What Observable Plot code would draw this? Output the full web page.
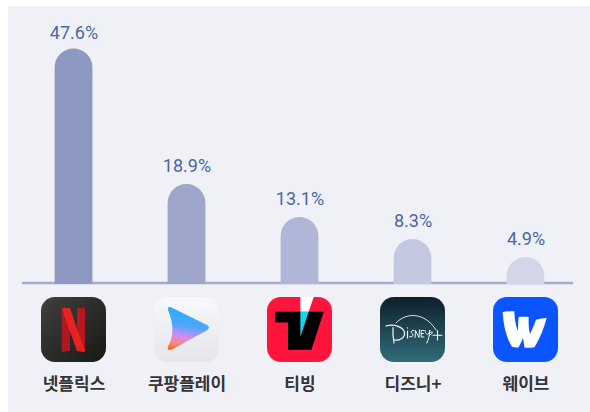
<!DOCTYPE html>
<html lang="ko">
<head>
<meta charset="utf-8">
<script src="https://cdn.jsdelivr.net/npm/d3@7"></script>
<script src="https://cdn.jsdelivr.net/npm/@observablehq/plot@0.6"></script>
<style>
html,body{margin:0;padding:0;background:#fff;width:590px;height:412px;overflow:hidden}
#panel{position:absolute;left:8px;top:6px;width:582px;height:406px;background:#f0f1f7}
#chart{position:absolute;left:0;top:0}
svg{display:block;background:transparent}
</style>
</head>
<body>
<div id="panel"></div>
<div id="chart"></div>
<script>
const services = ["넷플릭스", "쿠팡플레이", "티빙", "디즈니+", "웨이브"];
const shares = [47.6, 18.9, 13.1, 8.3, 4.9];
const shareLabels = ["47.6%", "18.9%", "13.1%", "8.3%", "4.9%"];
const barColors = ["#8e99c3", "#9ea6cb", "#b0b6d7", "#c3c8e0", "#d3d6e8"];

const svgUri = s => "data:image/svg+xml;charset=utf-8," + encodeURIComponent(
  `<svg xmlns="http://www.w3.org/2000/svg" width="65" height="65" viewBox="0 0 65 65">${s}</svg>`);
const tile = (id, a, b) => `<defs><linearGradient id="${id}" x1="0" y1="0" x2="0" y2="1"><stop offset="0" stop-color="${a}"/><stop offset="1" stop-color="${b}"/></linearGradient></defs><rect width="65" height="65" rx="14" fill="url(#${id})"/>`;

const logoNetflix = svgUri(`<defs><linearGradient id="n" x1="0" y1="0" x2="1" y2="1"><stop offset="0" stop-color="#3f3f3f"/><stop offset="1" stop-color="#191917"/></linearGradient></defs>
<rect width="65" height="65" rx="14" fill="url(#n)"/>
<path d="M20.7 11H29V53.5L20.7 55Z" fill="#b0181f"/><path d="M36 11H44V55L36 54Z" fill="#b5191f"/>
<path d="M20.7 11H29L44 55L36 54Z" fill="#e8231f"/>`);

const logoCoupang = svgUri(`<defs>
<linearGradient id="t" x1="0" y1="0" x2="0" y2="1"><stop offset="0" stop-color="#f7f8fa"/><stop offset="1" stop-color="#e5e6ea"/></linearGradient>
<linearGradient id="p" gradientUnits="userSpaceOnUse" x1="25" y1="10" x2="18" y2="52"><stop offset="0" stop-color="#29acfb"/><stop offset="0.42" stop-color="#52a6fa"/><stop offset="0.66" stop-color="#d08cf5"/><stop offset="0.84" stop-color="#f48a8e"/><stop offset="1" stop-color="#fb6a1c"/></linearGradient>
<filter id="b"><feGaussianBlur stdDeviation="0.35"/></filter></defs>
<rect width="65" height="65" rx="14" fill="url(#t)"/>
<path d="M14 13Q13 9.5 17 10.2L53 28Q57 30.5 53 33.2L19 52Q13 54.5 13.8 50Q23 34 14 13Z" fill="url(#p)" filter="url(#b)"/>`);

const logoTving = svgUri(`<rect width="65" height="65" rx="14" fill="#ff153c"/>
<path d="M8 14.7H56.7L44.4 52.7H21V25.4H8Z" fill="#000"/>
<path d="M33.4 0H46.7L41.7 14.7H33.4Z" fill="#fff"/>
<path d="M33.4 14.7H41.7L33.4 40Z" fill="#16d6e6"/>`);

const logoDisney = svgUri(`${tile("d", "#0f1e2c", "#306c79")}
<g fill="none" stroke="#f4f8f8" stroke-linecap="round">
<path d="M16 26C26 15 45 15 56 33" stroke-width="0.9"/>
<path d="M6 29C14 26.5 24 30 24.5 36C25 41 19 44 14.5 43M13 30.5C12.7 35 13 40 14 46" stroke-width="1.2"/>
<path d="M27.5 34V41M27.5 30.8V31" stroke-width="1.2"/>
<path d="M34 33.5C31 33 30.5 35.5 32 36.5C34 37.5 33 40.5 29.7 39.8" stroke-width="1"/>
<path d="M35 40.5L35.5 33.5L39 40.5L39.5 33" stroke-width="1"/>
<path d="M44 33.5H41.2V40H44M41.2 36.5H43.5" stroke-width="1"/>
<path d="M45 33.5C45.5 37 47 37.7 48.2 37C49.5 36 49.8 34 49.8 33C49.5 38 48.5 43 46.8 46M49.5 36.5C53 33 54 36 50 38" stroke-width="1"/>
<path d="M53 38.2H62M57.5 33.5V43" stroke-width="1.1"/>
</g>`);

const logoWavve = svgUri(`<rect width="65" height="65" rx="14" fill="#0a55ff"/>
<path d="M9.7 15C13 14.5 17 14.3 21.3 14.3C21.5 22 22.5 28 25 34C25 29 25.2 24 25.7 20C29 19.5 32.5 19.5 35.7 20C35.5 26 35.5 32 37 37C39 33 41 28 43 22.7C46.5 21.7 50 21.2 53.7 21C51 31 47 41 41.5 50.3C37 51 34 51 31.5 50.5C31 47 30.5 44 30 41C29 44 27 47.5 25.5 50.5C23 50.7 21 50.5 19 49.8C13 40 10.5 28 9.7 15Z" fill="#fff"/>`);

const logos = [logoNetflix, logoCoupang, logoTving, logoDisney, logoWavve];

const rows = services.map((name, i) => ({name, share: shares[i], label: shareLabels[i], color: barColors[i], logo: logos[i]}));

const labelStyle = {x: "name", y: "share", text: "label", fill: "#4a66a8", fontSize: 18, fontWeight: 400, fontFamily: "Roboto, 'Noto Sans CJK KR', sans-serif", letterSpacing: -0.5};

const plot = Plot.plot({
  width: 590,
  height: 412,
  marginTop: 0, marginBottom: 0, marginLeft: 22, marginRight: 17,
  style: {background: "transparent"},
  x: {type: "band", domain: services, range: [16.4, 582.6], padding: 0, axis: null},
  // the reference's bars are not strictly proportional to their labels: piecewise scale
  y: {type: "linear", domain: [0, 4.9, 8.3, 13.1, 18.9, 47.6], range: [283, 257, 239, 217, 184, 48.5], axis: null},
  color: {type: "identity"},
  marks: [
    Plot.ruleY([0], {stroke: "#a2aad4", strokeWidth: 2.5, dy: -0.5}),
    Plot.barY(rows, {x: "name", y: "share", fill: "color", insetLeft: 37.6, insetRight: 37.6, insetBottom: -1, rx1y1: 19, rx2y1: 19}),
    Plot.text(rows.slice(0, 1), {...labelStyle, dy: -16}),
    Plot.text(rows.slice(1), {...labelStyle, dy: -18}),
    Plot.image(rows, {x: "name", src: "logo", width: 65, height: 65, frameAnchor: "top", dx: -0.5, dy: 329}),
    Plot.text(rows, {x: "name", text: "name", frameAnchor: "top", dy: 377, fill: "#333338", fontSize: 17, fontWeight: 600, letterSpacing: -0.6, fontFamily: "'Noto Sans CJK KR', sans-serif"})
  ]
});
document.getElementById("chart").append(plot);
</script>
</body>
</html>
